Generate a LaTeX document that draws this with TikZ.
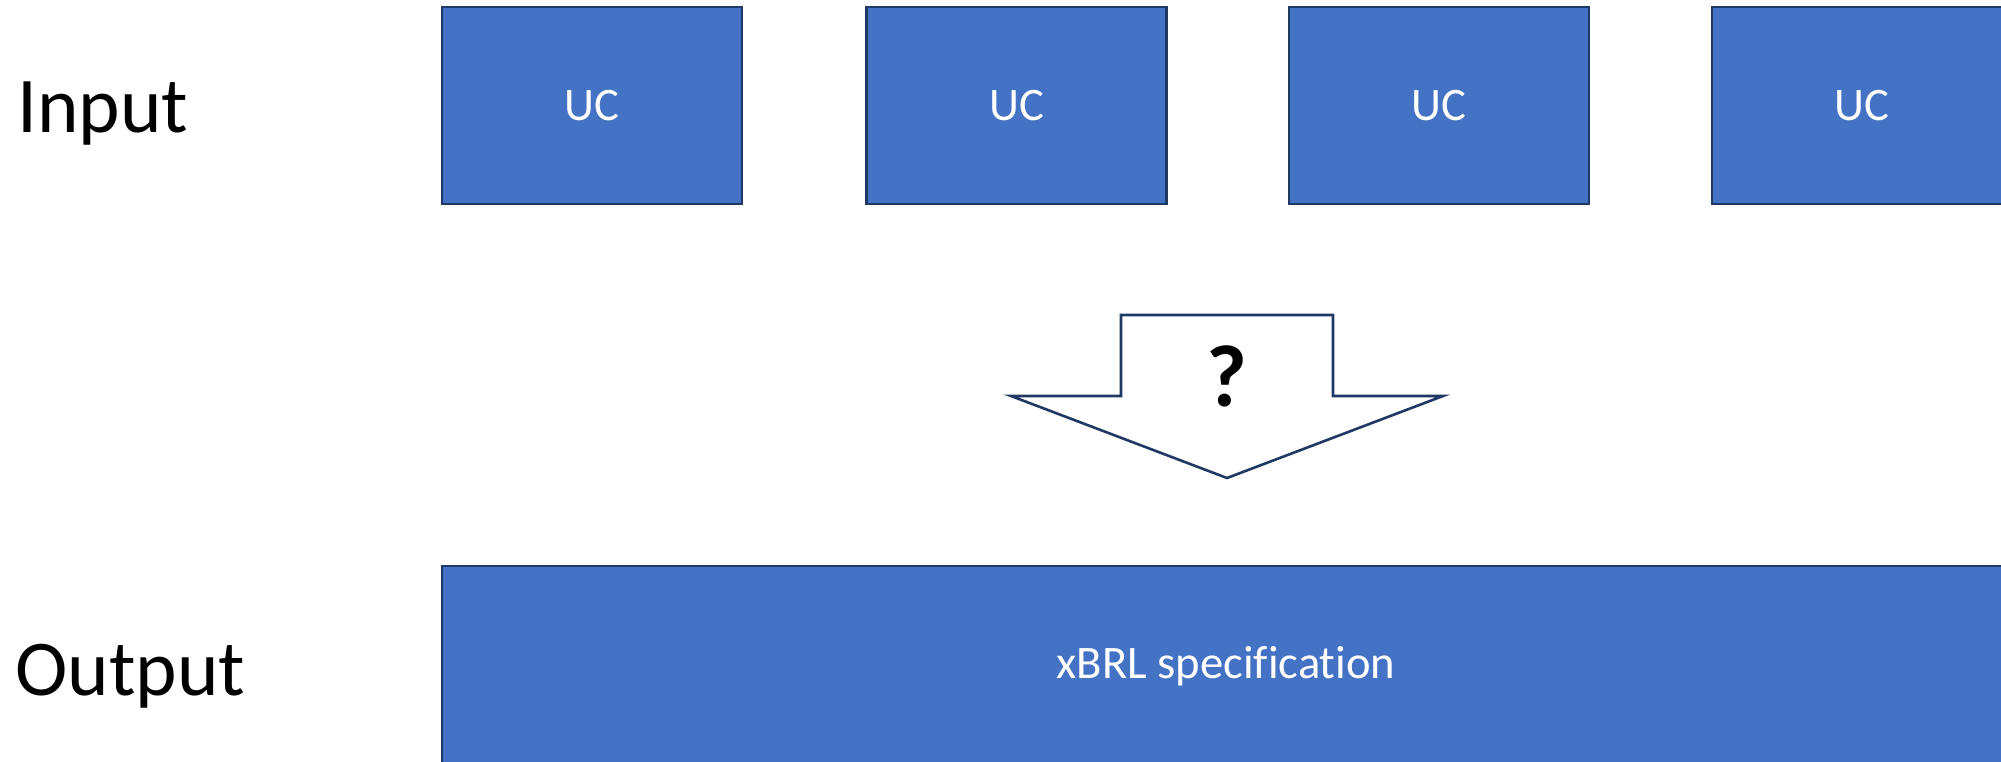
\documentclass[tikz,border=0pt]{standalone}
\usepackage{fontspec}
\setmainfont[Ligatures=NoCommon]{Carlito}
\usepackage{tikz}
\definecolor{ucblue}{HTML}{4472C4}
\definecolor{ucedge}{HTML}{1F3864}
\tikzstyle{ucbox} = [draw=ucedge, line width=1.3pt, fill=ucblue, text=white, minimum width=150pt, minimum height=98.5pt, inner sep=0pt, font=\fontsize{23.3}{28}\selectfont]
\tikzstyle{rowlabel} = [anchor=base west, inner sep=0pt, font=\fontsize{39.5}{47}\selectfont]

\begin{document}
\begin{tikzpicture}[x=0.5pt,y=-0.5pt]
    \clip (0,0) rectangle (2001,761);

        \node[rowlabel] (input) at (17,132) {Input};
        \node[rowlabel] (output) at (15,695) {Output};

        \node[ucbox] (uca) at (592,105.5) {UC};
        \node[ucbox] (ucb) at (1016.5,105.5) {UC};
        \node[ucbox] (ucc) at (1439,105.5) {UC};
        \node[ucbox] (ucd) at (1862,105.5) {UC};

        \node[ucbox, minimum width=784pt, minimum height=100pt] (spec) at (1226,666) {xBRL specification};

    % block arrow
    \draw[ucedge, line width=1.3pt, fill=white, line join=miter]
        (1121,315) -- (1333,315) -- (1333,396) -- (1443,396) -- (1227,478)
        -- (1011,396) -- (1121,396) -- cycle;
    \node[font=\fontsize{44}{50}\selectfont\bfseries, inner sep=0pt] (what) at (1227,376.5) {?};

    \end{tikzpicture}
\end{document}
